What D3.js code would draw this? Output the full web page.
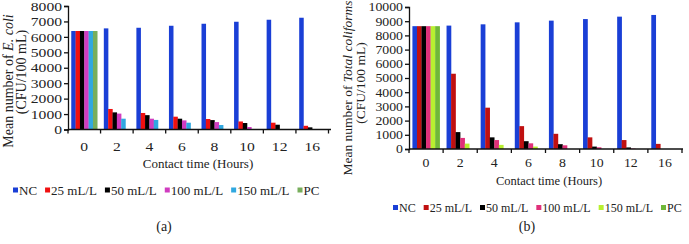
<!DOCTYPE html>
<html><head><meta charset="utf-8">
<script src="https://cdn.jsdelivr.net/npm/d3@7"></script>
<style>
html,body{margin:0;padding:0;background:#fff;}
svg{display:block;}
text{font-family:"Liberation Serif","Times New Roman",serif;fill:#222;}
</style></head>
<body>
<svg id="c" width="689" height="244"></svg>
<script>
const categories = ["0","2","4","6","8","10","12","16"];
const seriesNames = ["NC","25 mL/L","50 mL/L","100 mL/L","150 mL/L","PC"];

// (a) E. coli
const ecoliNC   = [6380, 6550, 6590, 6720, 6850, 6980, 7110, 7240];
const ecoli25   = [6380, 1330, 1070, 830, 680, 520, 440, 240];
const ecoli50   = [6380, 1110, 930, 700, 610, 420, 310, 140];
const ecoli100  = [6380, 1030, 700, 590, 480, 160, 0, 0];
const ecoli150  = [6380, 700, 620, 440, 290, 0, 0, 0];
const ecoliPC   = [6380, 0, 0, 0, 0, 0, 0, 0];
const ecoliTicks = [0,1000,2000,3000,4000,5000,6000,7000,8000];

// (b) Total coliforms
const tcNC   = [8650, 8690, 8780, 8920, 9040, 9150, 9320, 9440];
const tc25   = [8650, 5300, 2910, 1610, 1070, 820, 630, 360];
const tc50   = [8650, 1190, 820, 550, 340, 170, 110, 0];
const tc100  = [8650, 780, 630, 400, 260, 120, 30, 0];
const tc150  = [8650, 380, 290, 170, 0, 0, 0, 0];
const tcPC   = [8650, 0, 0, 0, 0, 0, 0, 0];
const tcTicks = [0,1000,2000,3000,4000,5000,6000,7000,8000,9000,10000];

const colorsA = ["#1a3fd6","#f01010","#000000","#d03cc0","#30a8e0","#78ae5c"];
const colorsB = ["#1a3fd6","#c01010","#000000","#e0307a","#b8f030","#70b838"];

const svg = d3.select("#c");
svg.append("rect").attr("width",689).attr("height",244).attr("fill","#fff");

function stretchText(sel, k){
  sel.each(function(){
    const w = this.getComputedTextLength();
    d3.select(this).attr("textLength", w*k).attr("lengthAdjust","spacingAndGlyphs");
  });
}

function drawChart(cfg){
  const g = svg.append("g");
  const x0 = d3.scaleBand().domain(categories).range([cfg.x0, cfg.x1]).padding(0);
  const x1 = d3.scaleBand().domain(seriesNames)
     .range([x0.bandwidth()*0.1, x0.bandwidth()*0.9]).padding(0);
  const y = d3.scaleLinear().domain([0, cfg.ymax]).range([cfg.y0, cfg.yTop]);
  const series = cfg.series;

  seriesNames.forEach((s,si)=>{
    g.append("g").selectAll("rect").data(series[si]).join("rect")
      .attr("x",(d,i)=>x0(categories[i]) + x1(s))
      .attr("y",d=>y(d))
      .attr("width",x1.bandwidth()+0.2)
      .attr("height",d=>cfg.y0 - y(d))
      .attr("fill",cfg.colors[si]);
  });

  const ya = g.append("g").attr("transform",`translate(${cfg.x0},0)`)
     .call(d3.axisLeft(y).tickValues(cfg.ticks).tickSize(4).tickPadding(2).tickFormat(d3.format("d")));
  ya.selectAll("path,line").attr("stroke","#111").attr("stroke-width",1.3);
  ya.selectAll("text").attr("font-size",cfg.fs).attr("fill","#222")
     .style("font-family","Liberation Serif");
  stretchText(ya.selectAll("text"), cfg.tickStretch);

  const xa = g.append("g");
  xa.append("line").attr("x1",cfg.x0).attr("x2",cfg.xLineEnd).attr("y1",cfg.y0).attr("y2",cfg.y0)
     .attr("stroke","#111").attr("stroke-width",1.3);
  const bounds = categories.map(c=>x0(c)).concat([cfg.x1]);
  xa.selectAll("line.t").data(bounds).join("line").attr("class","t")
     .attr("x1",d=>d).attr("x2",d=>d).attr("y1",cfg.y0).attr("y2",cfg.y0+4)
     .attr("stroke","#111").attr("stroke-width",1.3);
  const xl = xa.selectAll("text").data(categories).join("text")
     .attr("x",d=>x0(d)+x0.bandwidth()/2).attr("y",cfg.xLabelY)
     .attr("text-anchor","middle").attr("dominant-baseline","central")
     .attr("font-size",cfg.fs).text(d=>d);
  stretchText(xl, cfg.tickStretch);

  g.append("text").attr("x",cfg.xTitleX).attr("y",cfg.xTitleY)
     .attr("text-anchor","middle").attr("dominant-baseline","central")
     .attr("font-size",cfg.titleFs).text("Contact time (Hours)");

  const yt1 = g.append("text").attr("transform",`translate(${cfg.yt1x},${cfg.yt1y}) rotate(-90)`)
     .attr("text-anchor","middle").attr("dominant-baseline","central").attr("font-size",cfg.yfs);
  yt1.append("tspan").text("Mean number of ");
  yt1.append("tspan").attr("font-style","italic").text(cfg.organism);
  g.append("text").attr("transform",`translate(${cfg.yt2x},${cfg.yt2y}) rotate(-90)`)
     .attr("text-anchor","middle").attr("dominant-baseline","central").attr("font-size",cfg.yfs)
     .text("(CFU/100 mL)");

  const lg = g.append("g");
  let lx = cfg.legX;
  seriesNames.forEach((s,si)=>{
    lg.append("rect").attr("x",lx).attr("y",cfg.legY-2.5).attr("width",5).attr("height",5).attr("fill",cfg.colors[si]);
    const t = lg.append("text").attr("x",lx+6).attr("y",cfg.legY).attr("dominant-baseline","central")
       .attr("font-size",cfg.legFs).text(s);
    const w = t.node().getComputedTextLength();
    lx += 6 + w + cfg.legGap;
  });

  svg.append("text").attr("x",cfg.capX).attr("y",cfg.capY).attr("text-anchor","middle")
    .attr("dominant-baseline","central").attr("font-size",14).text(cfg.caption);
}

drawChart({
  x0:68, x1:328.5, xLineEnd:331, y0:129.5, yTop:6, ymax:8000, ticks:ecoliTicks,
  series:[ecoliNC,ecoli25,ecoli50,ecoli100,ecoli150,ecoliPC], colors:colorsA,
  fs:13, tickStretch:1.2, titleFs:13, yfs:14, xLabelY:146, xTitleX:198, xTitleY:163,
  organism:"E. coli", yt1x:8, yt1y:81, yt2x:21, yt2y:72,
  legX:13, legY:190, legFs:13, legGap:8,
  caption:"(a)", capX:164, capY:226
});
drawChart({
  x0:409, x1:682, xLineEnd:683, y0:149, yTop:7, ymax:10000, ticks:tcTicks,
  series:[tcNC,tc25,tc50,tc100,tc150,tcPC], colors:colorsB,
  fs:12, tickStretch:1.15, titleFs:12.5, yfs:13.5, xLabelY:163, xTitleX:549, xTitleY:181,
  organism:"Total coliforms", yt1x:347, yt1y:88, yt2x:360, yt2y:83,
  legX:393, legY:207.5, legFs:12, legGap:8,
  caption:"(b)", capX:527, capY:226
});
</script>
</body></html>
